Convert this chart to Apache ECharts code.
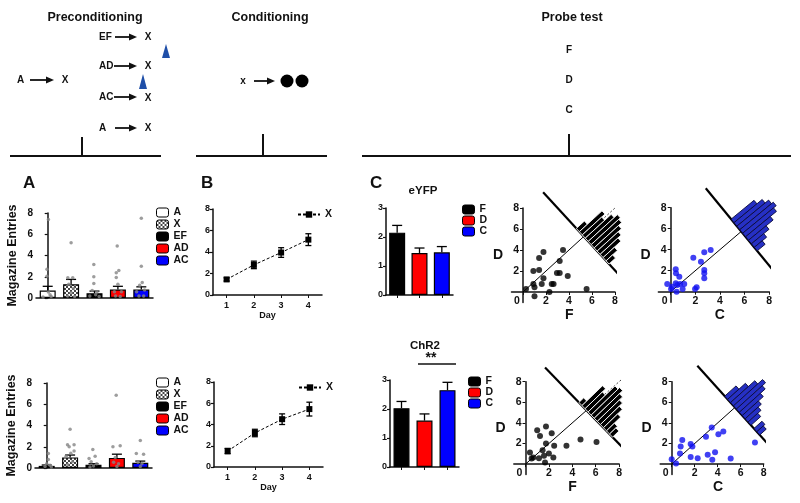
<!DOCTYPE html>
<html>
<head>
<meta charset="utf-8">
<script src="https://cdn.jsdelivr.net/npm/echarts@6/dist/echarts.min.js"></script>
<style>
html, body { margin: 0; background: #fff; }
#main { width: 800px; height: 503px; }
</style>
</head>
<body>
<div id="main"></div>
<script>
// ---- data ----
var groupNames = ['A', 'X', 'EF', 'AD', 'AC'];
var preTopMean = [0.7, 1.3, 0.45, 0.8, 0.8];
var preTopSem = [0.4, 0.45, 0.2, 0.3, 0.25];
var preBotMean = [0.2, 1.0, 0.3, 0.95, 0.5];
var preBotSem = [0.08, 0.22, 0.1, 0.35, 0.15];
// individual animals [group position + jitter, entries]
var preTopDots = [[0.03, 7.4], [-0.03, 2.7], [-0.03, 2.05], [0.03, 0.57], [-0.2, 0.1], [0.15, 0.15], [0.1, 0.3],
  [1.0, 5.2], [0.86, 1.9], [1.07, 1.9], [0.9, 1.3], [1.1, 0.9], [1.0, 0.5], [0.85, 0.2], [1.15, 0.15],
  [1.97, 3.15], [1.97, 2.0], [1.97, 1.36], [2.1, 0.57], [1.8, 0.2], [2.2, 0.15], [2.05, 0.3], [1.9, 0.7],
  [2.97, 4.9], [2.93, 2.37], [3.04, 2.6], [2.93, 1.93], [3.0, 1.3], [2.85, 0.6], [3.15, 0.6], [2.9, 0.2], [3.1, 0.15],
  [4.0, 7.5], [4.0, 3.0], [4.04, 1.45], [3.93, 1.2], [3.8, 0.6], [4.14, 0.75], [3.9, 0.2], [4.1, 0.2]];
var preBotDots = [[0.07, 1.36], [0.07, 0.8], [0, 0.4], [0.14, 0.25], [-0.07, 0.15], [0.2, 0.1],
  [1.0, 3.64], [0.89, 2.2], [1.17, 2.2], [0.96, 2.0], [1.17, 1.6], [1.03, 1.4], [0.83, 1.1], [1.1, 0.6], [0.9, 0.3],
  [1.97, 1.74], [2.07, 1.1], [1.81, 0.9], [1.9, 0.6], [2.14, 0.4], [2.0, 0.2], [1.85, 0.1],
  [2.97, 6.84], [2.83, 2.0], [3.14, 2.1], [2.93, 1.0], [2.86, 0.55], [3.07, 0.4], [3.0, 0.15],
  [4.0, 2.6], [3.83, 1.36], [4.14, 1.3], [3.9, 0.55], [4.07, 0.4], [4.0, 0.15]];

var days = ['1', '2', '3', '4'];
var condTopMean = [1.45, 2.8, 3.95, 5.15];
var condTopSem = [0.15, 0.35, 0.45, 0.55];
var condBotMean = [1.5, 3.2, 4.5, 5.45];
var condBotSem = [0.25, 0.35, 0.5, 0.65];

var probeNames = ['F', 'D', 'C'];
var probeColors = ['#000000', '#ff0000', '#0000ff'];
var eyfpMean = [2.15, 1.45, 1.47];
var eyfpSem = [0.25, 0.17, 0.2];
var chr2Mean = [2.03, 1.6, 2.65];
var chr2Sem = [0.23, 0.23, 0.27];

// scatter: [x, D]
var eyfpFD = [[0.26, 0.29], [0.9, 0.76], [0.9, 2.0], [1.0, 0.45], [1.0, -0.4], [1.4, 2.1], [1.4, 3.25], [1.63, 0.76],
  [1.78, 1.3], [1.78, 3.8], [2.3, 0.0], [2.5, 0.76], [2.66, 0.76], [2.95, 1.8], [3.19, 1.8], [3.19, 2.95],
  [3.48, 3.99], [3.89, 1.52], [5.53, 0.29]];
var eyfpCD = [[-0.28, 0.73], [0.03, 0.26], [0.11, 0.48], [0.41, 2.13], [0.43, 1.75], [0.41, 0.8], [0.48, 0.0],
  [0.54, 0.64], [0.7, 1.43], [0.76, 0.73], [0.97, 0.26], [1.1, 0.73], [1.84, 3.24], [1.98, 0.26], [2.11, 0.42],
  [2.46, 2.86], [2.73, 3.75], [2.73, 2.07], [2.73, 1.75], [2.73, 1.27], [3.25, 3.97]];
var chr2FD = [[0.38, 1.13], [0.52, 0.54], [0.67, 0.64], [1.0, 3.28], [1.15, 0.58], [1.24, 2.74], [1.46, 1.35],
  [1.58, 0.8], [1.67, 0.15], [1.75, 3.65], [1.75, 2.0], [2.0, 1.03], [2.24, 3.0], [2.38, 0.65], [2.45, 1.78],
  [3.5, 1.78], [4.7, 2.4], [6.07, 2.15]];
var chr2CD = [[0, 0.48], [0.38, 0.06], [0.72, 1.03], [0.78, 1.71], [0.92, 2.33], [1.65, 0.7], [1.65, 1.94],
  [1.8, 1.71], [2.26, 0.58], [2.98, 2.65], [3.13, 0.9], [3.48, 3.55], [3.53, 0.42], [3.77, 1.16], [4.06, 2.9],
  [4.49, 3.16], [5.13, 0.55], [7.24, 2.1]];

// unity line end and the perpendicular line carrying the difference histogram
var eyfpFDDiag = 9.4, eyfpFDCut = [[1.75, 9.5], [9.0, 0.85]];
var eyfpCDDiag = 9.5, eyfpCDCut = [[2.85, 9.85], [9.2, 0.8]];
var chr2FDDiag = 9.3, chr2FDCut = [[1.67, 9.38], [9.07, 0.71]];
var chr2CDDiag = 9.3, chr2CDCut = [[2.23, 9.54], [9.42, 0.64]];
// histograms: [offset along the cut line, bar length]
var eyfpFDHist = [[-0.8, 1.0], [-0.4, 2.8], [0, 2.4], [0.4, 3.2], [0.8, 3.6], [1.2, 3.4], [1.6, 3.0], [2.0, 2.6], [2.4, 2.2], [2.8, 1.4], [3.2, 0.8]];
var eyfpCDHist = [[-1.2, 2.6], [-0.8, 3.2], [-0.4, 3.6], [0, 3.8], [0.4, 3.5], [0.8, 2.8], [1.2, 2.0], [1.6, 1.4], [2.0, 0.9]];
var chr2FDHist = [[-0.8, 0.6], [-0.4, 2.6], [0, 2.2], [0.4, 3.4], [0.8, 3.6], [1.2, 3.2], [1.6, 2.8], [2.0, 2.4], [2.4, 1.8], [2.8, 1.0], [3.2, 0.8]];
var chr2CDHist = [[-1.2, 1.4], [-0.8, 2.2], [-0.4, 3.0], [0, 3.6], [0.4, 3.2], [0.8, 2.6], [1.2, 2.0], [1.6, 1.6], [2.0, 1.2], [2.8, 1.0], [3.2, 0.8]];

// ---- helpers ----
var font = 'Liberation Sans, Arial, Helvetica, sans-serif';
var ink = '#111';

var pc = document.createElement('canvas');
pc.width = 4; pc.height = 4;
var g = pc.getContext('2d');
g.fillStyle = '#fff'; g.fillRect(0, 0, 4, 4);
g.fillStyle = '#444'; g.fillRect(0, 0, 2, 2); g.fillRect(2, 2, 2, 2);
var checker = { image: pc, repeat: 'repeat' };
var groupFills = ['#ffffff', checker, '#000000', '#ff0000', '#0000ff'];

var grids = [
  { left: 36, top: 213, width: 117, height: 85 },
  { left: 35, top: 383, width: 117, height: 85 },
  { left: 213, top: 209, width: 109, height: 86 },
  { left: 214, top: 382, width: 109, height: 85 },
  { left: 386, top: 208, width: 67, height: 87 },
  { left: 390, top: 380, width: 69, height: 87 },
  { left: 511.5, top: 208, width: 103.5, height: 94.5 },
  { left: 658.4, top: 207.7, width: 110.7, height: 94.5 },
  { left: 513.8, top: 381.7, width: 105.3, height: 92.7 },
  { left: 660.2, top: 381.7, width: 103.5, height: 92.7 }
];

function errRender(both, cap) {
  return function (params, api) {
    var x = api.value(0), m = api.value(1), e = api.value(2);
    var top = api.coord([x, m + e]);
    var bot = api.coord([x, both ? m - e : m]);
    var st = { stroke: '#000', lineWidth: 1.3 };
    var kids = [
      { type: 'line', shape: { x1: top[0], y1: top[1], x2: bot[0], y2: bot[1] }, style: st },
      { type: 'line', shape: { x1: top[0] - cap, y1: top[1], x2: top[0] + cap, y2: top[1] }, style: st }
    ];
    if (both) kids.push({ type: 'line', shape: { x1: bot[0] - cap, y1: bot[1], x2: bot[0] + cap, y2: bot[1] }, style: st });
    return { type: 'group', children: kids };
  };
}

function crossOf(cut) {
  var x1 = cut[0][0], y1 = cut[0][1], x2 = cut[1][0], y2 = cut[1][1];
  var s = (y1 - x1) / ((x2 - x1) - (y2 - y1));
  return [x1 + s * (x2 - x1), y1 + s * (y2 - y1)];
}

function histRender(cut, fill, stroke) {
  return function (params, api) {
    var a = api.coord(cut[0]), b = api.coord(cut[1]);
    var c = api.coord(crossOf(cut));
    var dx = b[0] - a[0], dy = b[1] - a[1], n = Math.sqrt(dx * dx + dy * dy);
    var u = [dx / n, dy / n], v = [u[1], -u[0]];
    var sz = api.size([1, 1]), s = (sz[0] + sz[1]) / 2;
    var t = api.value(0) * s, L = api.value(1) * s, w = 0.4 * s / 2;
    var p0 = [c[0] + (t - w) * u[0], c[1] + (t - w) * u[1]];
    var p1 = [c[0] + (t + w) * u[0], c[1] + (t + w) * u[1]];
    return {
      type: 'polygon',
      shape: { points: [p0, p1, [p1[0] + L * v[0], p1[1] + L * v[1]], [p0[0] + L * v[0], p0[1] + L * v[1]]] },
      style: { fill: fill, stroke: stroke, lineWidth: 0.9 }
    };
  };
}

function lineStyleAxis(w) { return { lineStyle: { color: ink, width: w } }; }

function barY(gi, max, interval, fs, name) {
  return {
    type: 'value', gridIndex: gi, min: 0, max: max, interval: interval,
    name: name || '', nameLocation: 'middle', nameGap: 17,
    nameTextStyle: { fontSize: 12.5, fontWeight: 'bold', color: ink, fontFamily: font },
    axisLine: { show: true, lineStyle: { color: ink, width: 1.5 } },
    axisTick: { show: true, length: 3, lineStyle: { color: ink, width: 1.2 } },
    axisLabel: { fontSize: fs, fontWeight: 'bold', color: ink, fontFamily: font, margin: 3 },
    splitLine: { show: false }
  };
}
function catX(gi, data, ticks, name) {
  return {
    type: 'category', gridIndex: gi, data: data, name: name || '', nameLocation: 'middle', nameGap: 15,
    nameTextStyle: { fontSize: 9, fontWeight: 'bold', color: ink, fontFamily: font },
    axisLine: lineStyleAxis(1.5),
    axisTick: { show: ticks, alignWithLabel: true, length: 3, lineStyle: { color: ink } },
    axisLabel: { show: name ? true : false, fontSize: 9, fontWeight: 'bold', color: ink, fontFamily: font, margin: 6 }
  };
}
function hiddenX(gi) {
  return { type: 'value', gridIndex: gi, min: -0.5, max: 4.5, show: false };
}
// scatter axes run from -1 to 8 and cross at the origin
function scatX(gi, name) {
  return {
    type: 'value', gridIndex: gi, min: -1, max: 8, name: name, nameLocation: 'middle', nameGap: 16,
    offset: -grids[gi].height / 9,
    nameTextStyle: { fontSize: 14, fontWeight: 'bold', color: ink, fontFamily: font, padding: [0, 0, 0, 12] },
    axisLine: { onZero: false, lineStyle: { color: ink, width: 1.5 } },
    axisTick: { customValues: [0, 2, 4, 6, 8], length: 3, lineStyle: { color: ink } },
    axisLabel: {
      customValues: [0, 2, 4, 6, 8], fontSize: 10.5, fontWeight: 'bold', color: ink, fontFamily: font, margin: 4,
      formatter: function (v) { return v === 0 ? '{z|0}' : String(v); },
      rich: { z: { fontSize: 10.5, fontWeight: 'bold', color: ink, fontFamily: font, padding: [0, 12, 0, 0] } }
    },
    splitLine: { show: false }
  };
}
function scatY(gi) {
  return {
    type: 'value', gridIndex: gi, min: -1, max: 8, name: 'D', nameLocation: 'middle', nameGap: 20, nameRotate: 0,
    offset: -grids[gi].width / 9,
    nameTextStyle: { fontSize: 14, fontWeight: 'bold', color: ink, fontFamily: font, padding: [0, 0, 8, 0] },
    axisLine: { onZero: false, lineStyle: { color: ink, width: 1.5 } },
    axisTick: { customValues: [2, 4, 6, 8], length: 3, lineStyle: { color: ink } },
    axisLabel: { customValues: [2, 4, 6, 8], fontSize: 10.5, fontWeight: 'bold', color: ink, fontFamily: font, margin: 4 },
    splitLine: { show: false }
  };
}

var series = [];

// panel A bars, error bars and dots
function addPre(xBar, xDot, yIdx, mean, sem, dots) {
  groupNames.forEach(function (nm, i) {
    var d = mean.map(function (v, j) { return j === i ? v : '-'; });
    series.push({
      name: nm, type: 'bar', xAxisIndex: xBar, yAxisIndex: yIdx, data: d, barWidth: 16, barGap: '-100%',
      itemStyle: { color: groupFills[i], borderColor: '#000', borderWidth: 1.2 }, z: 2
    });
  });
  series.push({
    type: 'custom', xAxisIndex: xBar, yAxisIndex: yIdx, renderItem: errRender(false, 5),
    data: mean.map(function (v, i) { return [i, v, sem[i]]; }), z: 3
  });
  series.push({
    type: 'scatter', xAxisIndex: xDot, yAxisIndex: yIdx, data: dots, symbolSize: 3.5,
    itemStyle: { color: '#858585' }, z: 4
  });
}
addPre(0, 1, 0, preTopMean, preTopSem, preTopDots);
addPre(2, 3, 1, preBotMean, preBotSem, preBotDots);

// panel B
function addCond(xIdx, yIdx, mean, sem) {
  series.push({
    name: 'Xday', type: 'line', xAxisIndex: xIdx, yAxisIndex: yIdx, data: mean,
    symbol: 'rect', symbolSize: 6, itemStyle: { color: '#000' },
    lineStyle: { color: '#000', width: 1, type: [3, 2] }, z: 3
  });
  series.push({
    type: 'custom', xAxisIndex: xIdx, yAxisIndex: yIdx, renderItem: errRender(true, 3),
    data: mean.map(function (v, i) { return [i, v, sem[i]]; }), z: 2
  });
}
addCond(4, 2, condTopMean, condTopSem);
addCond(5, 3, condBotMean, condBotSem);

// panel C bars
function addProbe(xIdx, yIdx, mean, sem) {
  probeNames.forEach(function (nm, i) {
    var d = mean.map(function (v, j) { return j === i ? v : '-'; });
    series.push({
      name: nm, type: 'bar', xAxisIndex: xIdx, yAxisIndex: yIdx, data: d, barWidth: 16, barGap: '-100%',
      itemStyle: { color: probeColors[i], borderColor: '#000', borderWidth: 1.2 }, z: 2
    });
  });
  series.push({
    type: 'custom', xAxisIndex: xIdx, yAxisIndex: yIdx, renderItem: errRender(false, 5),
    data: mean.map(function (v, i) { return [i, v, sem[i]]; }), z: 3
  });
}
addProbe(6, 4, eyfpMean, eyfpSem);
addProbe(7, 5, chr2Mean, chr2Sem);

// scatter + unity line + difference histogram
function addScatter(xi, yi, pts, color, diagEnd, cut, hist, hFill, hStroke) {
  var c = crossOf(cut);
  series.push({
    type: 'line', xAxisIndex: xi, yAxisIndex: yi, data: [[0, 0], c], symbol: 'none', clip: false,
    lineStyle: { color: '#000', width: 1 }, z: 1
  });
  series.push({
    type: 'line', xAxisIndex: xi, yAxisIndex: yi, data: [c, [diagEnd, diagEnd]], symbol: 'none', clip: false,
    lineStyle: { color: '#444', width: 1, type: [2, 2] }, z: 1
  });
  series.push({
    type: 'line', xAxisIndex: xi, yAxisIndex: yi, data: cut, symbol: 'none', clip: false,
    lineStyle: { color: '#000', width: 2.2 }, z: 2
  });
  series.push({
    type: 'custom', xAxisIndex: xi, yAxisIndex: yi, renderItem: histRender(cut, hFill, hStroke),
    data: hist, clip: false, z: 3
  });
  series.push({
    type: 'scatter', xAxisIndex: xi, yAxisIndex: yi, data: pts, symbolSize: 6,
    itemStyle: { color: color }, clip: false, z: 4
  });
}
addScatter(8, 6, eyfpFD, '#000', eyfpFDDiag, eyfpFDCut, eyfpFDHist, '#000', '#fff');
addScatter(9, 7, eyfpCD, '#1010f0', eyfpCDDiag, eyfpCDCut, eyfpCDHist, '#2630c4', '#0a0a3a');
addScatter(10, 8, chr2FD, '#000', chr2FDDiag, chr2FDCut, chr2FDHist, '#000', '#fff');
addScatter(11, 9, chr2CD, '#1010f0', chr2CDDiag, chr2CDCut, chr2CDHist, '#2630c4', '#0a0a3a');

// ---- schematic ----
var gfx = [];
function txt(x, y, s, size, align) {
  gfx.push({ type: 'text', x: x, y: y, style: { text: s, fill: ink, font: 'bold ' + size + 'px ' + font, textAlign: align || 'center', textVerticalAlign: 'middle' } });
}
function seg(x1, y1, x2, y2, w) {
  gfx.push({ type: 'line', shape: { x1: x1, y1: y1, x2: x2, y2: y2 }, style: { stroke: ink, lineWidth: w } });
}
function arrow(x1, x2, y) {
  seg(x1, y, x2 - 6, y, 1.8);
  gfx.push({ type: 'polygon', shape: { points: [[x2 - 8, y - 3.5], [x2, y], [x2 - 8, y + 3.5]] }, style: { fill: ink } });
}
function cone(x, yTop, yBot) {
  gfx.push({ type: 'polygon', shape: { points: [[x, yTop], [x + 4, yBot], [x - 4, yBot]] }, style: { fill: '#1f4fa8' } });
}
txt(99, 37, 'EF', 10, 'left'); arrow(115, 137, 37); txt(148, 37, 'X', 10);
txt(99, 66, 'AD', 10, 'left'); arrow(114, 137, 66); txt(148, 66, 'X', 10);
txt(17, 80, 'A', 10, 'left'); arrow(30, 54, 80); txt(65, 80, 'X', 10);
txt(99, 97, 'AC', 10, 'left'); arrow(114, 137, 97); txt(148, 98, 'X', 10);
txt(99, 128, 'A', 10, 'left'); arrow(115, 137, 128); txt(148, 128, 'X', 10);
cone(166, 44, 58); cone(143, 74, 89);
txt(243, 81, 'x', 10); arrow(254, 275, 81);
gfx.push({ type: 'circle', shape: { cx: 287, cy: 81, r: 6.5 }, style: { fill: '#000' } });
gfx.push({ type: 'circle', shape: { cx: 302, cy: 81, r: 6.5 }, style: { fill: '#000' } });
txt(569, 50, 'F', 10); txt(569, 80, 'D', 10); txt(569, 110, 'C', 10);
seg(10, 156, 161, 156, 2); seg(82, 137, 82, 156, 2);
seg(196, 156, 327, 156, 2); seg(263, 134, 263, 156, 2);
seg(362, 156, 791, 156, 2); seg(569, 134, 569, 156, 2);
// significance bar
seg(418, 364, 456, 364, 1.5);
txt(431, 358, '**', 14);

var titleStyle = function (size) { return { fontSize: size, fontWeight: 'bold', color: ink, fontFamily: font }; };
var titles = [
  { text: 'Preconditioning', left: 90, top: 6, textAlign: 'center', textStyle: titleStyle(12.5) },
  { text: 'Conditioning', left: 265, top: 6, textAlign: 'center', textStyle: titleStyle(12.5) },
  { text: 'Probe test', left: 567, top: 6, textAlign: 'center', textStyle: titleStyle(12.5) },
  { text: 'A', left: 18, top: 170, textStyle: titleStyle(17) },
  { text: 'B', left: 196, top: 170, textStyle: titleStyle(17) },
  { text: 'C', left: 365, top: 170, textStyle: titleStyle(17) },
  { text: 'eYFP', left: 418, top: 180, textAlign: 'center', textStyle: titleStyle(11.5) },
  { text: 'ChR2', left: 420, top: 335, textAlign: 'center', textStyle: titleStyle(11.5) }
];

var legText = { fontSize: 10.5, fontWeight: 'bold', color: ink, fontFamily: font };
var legends = [
  { data: groupNames, left: 156, top: 207, orient: 'vertical', itemWidth: 12, itemHeight: 9, itemGap: 1, itemStyle: { borderColor: '#000', borderWidth: 1 }, textStyle: legText, padding: 0, selectedMode: false },
  { data: groupNames, left: 156, top: 377, orient: 'vertical', itemWidth: 12, itemHeight: 9, itemGap: 1, itemStyle: { borderColor: '#000', borderWidth: 1 }, textStyle: legText, padding: 0, selectedMode: false },
  { data: ['Xday'], left: 297, top: 209, itemWidth: 22, itemHeight: 8, textStyle: legText, padding: 0, selectedMode: false, formatter: function () { return 'X'; } },
  { data: ['Xday'], left: 298, top: 382, itemWidth: 22, itemHeight: 8, textStyle: legText, padding: 0, selectedMode: false, formatter: function () { return 'X'; } },
  { data: probeNames, left: 462, top: 204, orient: 'vertical', itemWidth: 12, itemHeight: 9, itemGap: 0, itemStyle: { borderColor: '#000', borderWidth: 1 }, textStyle: legText, padding: 0, selectedMode: false },
  { data: probeNames, left: 468, top: 376, orient: 'vertical', itemWidth: 12, itemHeight: 9, itemGap: 0, itemStyle: { borderColor: '#000', borderWidth: 1 }, textStyle: legText, padding: 0, selectedMode: false }
];

var option = {
  backgroundColor: '#fff',
  animation: false,
  textStyle: { fontFamily: font },
  title: titles,
  legend: legends,
  graphic: gfx,
  grid: grids,
  xAxis: [
    catX(0, groupNames, false), hiddenX(0),
    catX(1, groupNames, false), hiddenX(1),
    catX(2, days, true, 'Day'), catX(3, days, true, 'Day'),
    catX(4, probeNames, true), catX(5, probeNames, true),
    scatX(6, 'F'), scatX(7, 'C'), scatX(8, 'F'), scatX(9, 'C')
  ],
  yAxis: [
    barY(0, 8, 2, 10, 'Magazine Entries'), barY(1, 8, 2, 10, 'Magazine Entries'),
    barY(2, 8, 2, 9), barY(3, 8, 2, 9),
    barY(4, 3, 1, 9), barY(5, 3, 1, 9),
    scatY(6), scatY(7), scatY(8), scatY(9)
  ],
  series: series
};

var chart = echarts.init(document.getElementById('main'));
chart.setOption(option);
</script>
</body>
</html>
